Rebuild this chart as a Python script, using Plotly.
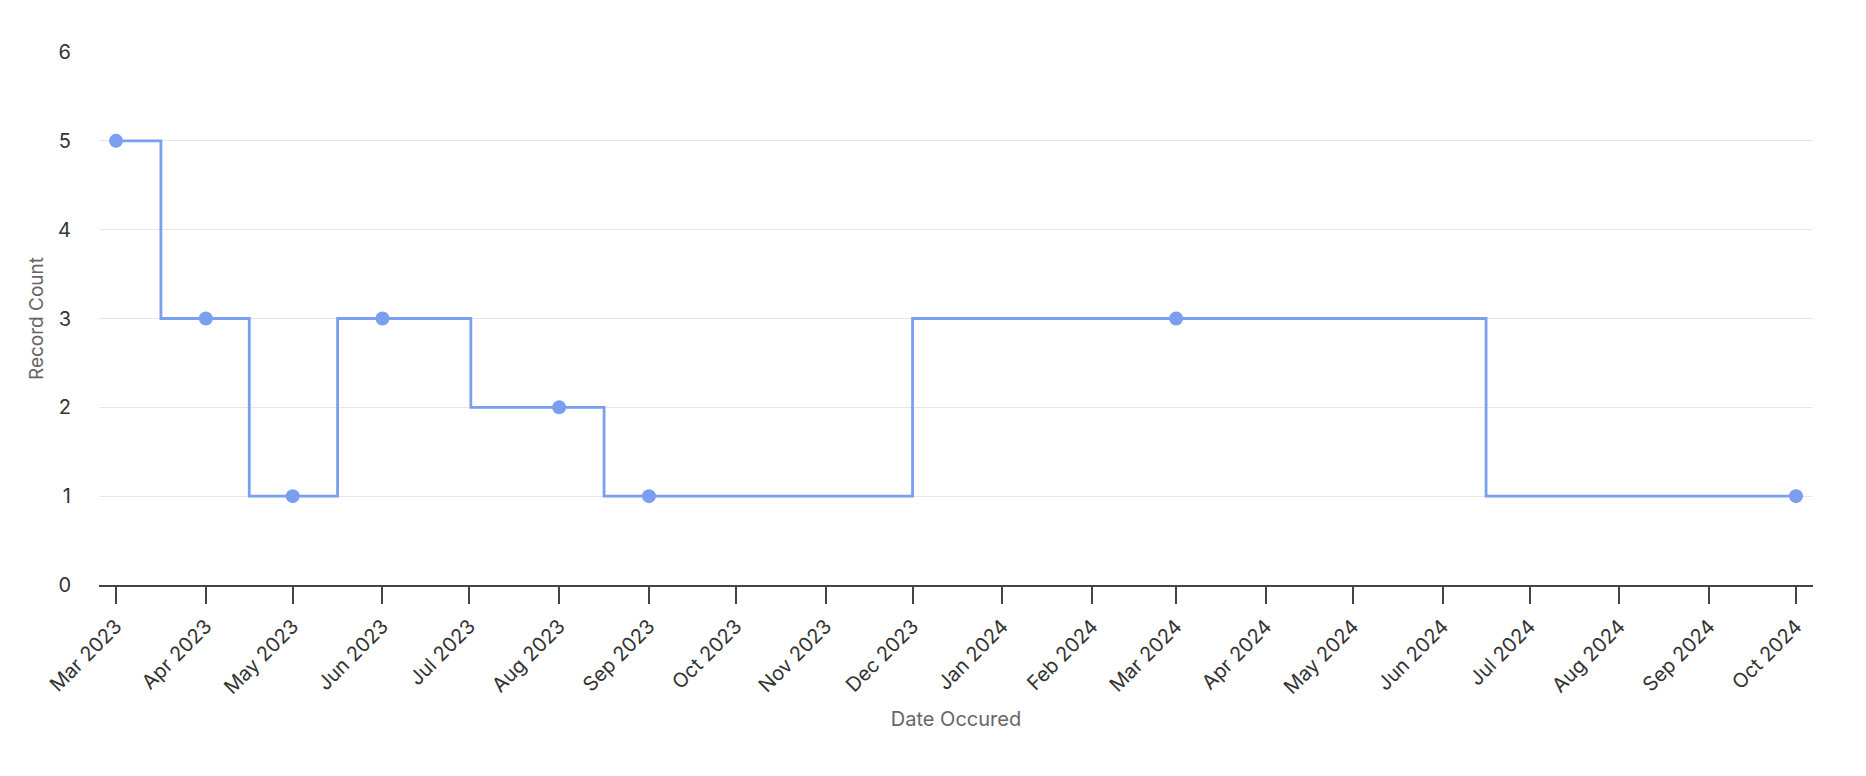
import plotly.graph_objects as go

dates = ["2023-03-01", "2023-04-01", "2023-05-01", "2023-06-01", "2023-08-01",
         "2023-09-01", "2024-03-01", "2024-10-01"]
counts = [5, 3, 1, 3, 2, 1, 3, 1]

line_color = "#7b9ff0"
font_family = "Inter, Roboto, sans-serif"

fig = go.Figure(go.Scatter(
    x=dates, y=counts, mode="lines+markers",
    line=dict(shape="hvh", color=line_color, width=2.8),
    marker=dict(size=14, color=line_color),
    showlegend=False,
))

fig.update_layout(
    width=1866, height=776,
    margin=dict(l=91, r=61, t=44, b=199),
    plot_bgcolor="white", paper_bgcolor="white",
    font=dict(family=font_family, size=20, color="#333333"),
)
fig.update_xaxes(
    type="date",
    range=["2023-02-23 03:00", "2024-10-06 21:00"],
    dtick="M1", tick0="2023-03-01", tickformat="%b %Y", tickangle=-45,
    ticks="outside", ticklen=17, tickwidth=1.5, tickcolor="#444444",
    showline=True, linecolor="#444444", linewidth=1.5,
    showgrid=False, zeroline=False, ticklabelstandoff=3,
    title=dict(text="Date Occured", font=dict(size=20, color="#666666"), standoff=14),
)
fig.update_yaxes(
    range=[0, 6], dtick=1,
    showgrid=True, gridcolor="#e6e6e6", gridwidth=1,
    zeroline=False, showline=False,
    ticklabelstandoff=27,
    title=dict(text="Record Count", font=dict(size=19, color="#666666"), standoff=9),
)

fig.write_html("out.html")
